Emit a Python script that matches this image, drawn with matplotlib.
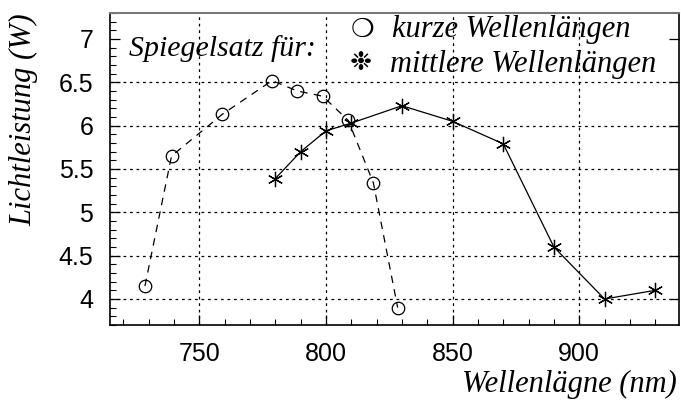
import matplotlib.pyplot as plt
from matplotlib.ticker import MultipleLocator, FormatStrFormatter

# Lichtleistung je Wellenlänge, zwei Spiegelsätze
wl_kurz = [728.5, 739, 759, 778.7, 788.7, 798.7, 808.8, 818.7, 828.3]
p_kurz = [4.15, 5.65, 6.13, 6.52, 6.40, 6.34, 6.06, 5.34, 3.90]

wl_mittel = [780, 790, 800, 810, 830, 850, 870, 890, 910, 930]
p_mittel = [5.39, 5.70, 5.94, 6.03, 6.23, 6.05, 5.79, 4.60, 4.00, 4.10]

W, H = 681, 401
fig = plt.figure(figsize=(W / 100, H / 100), dpi=100)
ax = fig.add_axes([110 / W, 1 - 325 / H, (679 - 110) / W, (325 - 13) / H])

serif = 'Liberation Serif'
sans = 'Liberation Sans'

ax.plot(wl_kurz, p_kurz, color='black', lw=0.9, dashes=(6, 5),
        marker='o', ms=9, mfc='none', mec='black', mew=0.9)
ax.plot(wl_mittel, p_mittel, color='black', lw=0.9,
        marker=(6, 2, 0), ms=11, mec='black', mew=0.9)

ax.set_xlim(714.7, 939.4)
ax.set_ylim(3.70, 7.30)
ax.xaxis.set_major_locator(MultipleLocator(50))
ax.xaxis.set_minor_locator(MultipleLocator(10))
ax.yaxis.set_major_locator(MultipleLocator(0.5))
ax.yaxis.set_minor_locator(MultipleLocator(0.1))
ax.yaxis.set_major_formatter(FormatStrFormatter('%g'))
ax.tick_params(which='major', direction='in', length=7, width=0.9, pad=12,
               labelsize=18, right=True)
ax.tick_params(which='minor', direction='in', length=4, width=0.8)
for lab in ax.get_xticklabels() + ax.get_yticklabels():
    lab.set_fontfamily(sans)

ax.grid(True, which='major', color='black', lw=0.9, linestyle=(0, (2.2, 3)))
# keine Gitterlinie bei 7 W (Legendenbereich)
for val, gl in zip(ax.get_yticks(), ax.yaxis.get_gridlines()):
    if val > 6.75:
        gl.set_visible(False)

for side in ['left', 'bottom', 'right']:
    ax.spines[side].set_linewidth(1.2)
ax.spines['top'].set_color('#777777')
ax.spines['top'].set_linewidth(1.5)

fig.text(24 / W, 1 - 13 / H, 'Lichtleistung (W)', rotation=90, ha='center', va='top',
         family=serif, style='italic', fontsize=22)
fig.text(677 / W, 1 - 392 / H, 'Wellenlägne (nm)', ha='right', va='baseline',
         family=serif, style='italic', fontsize=22)

fig.text(129 / W, 1 - 56 / H, 'Spiegelsatz für:', ha='left', va='baseline',
         family=serif, style='italic', fontsize=21.5)
fig.text(392 / W, 1 - 37 / H, 'kurze Wellenlängen', ha='left', va='baseline',
         family=serif, style='italic', fontsize=22)
fig.text(390 / W, 1 - 72 / H, 'mittlere Wellenlängen', ha='left', va='baseline',
         family=serif, style='italic', fontsize=22)
fig.text(362 / W, 1 - 30 / H, '❍', ha='center', va='center',
         family='DejaVu Sans', fontsize=19)
fig.text(361 / W, 1 - 63 / H, '❉', ha='center', va='center',
         family='DejaVu Sans', fontsize=19)

fig.savefig('out.png', dpi=100)
